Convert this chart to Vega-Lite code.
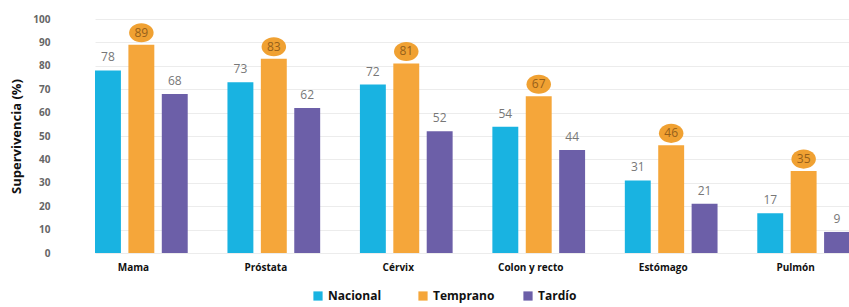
{
  "$schema": "https://vega.github.io/schema/vega-lite/v6.json",
  "width": 782,
  "height": 234,
  "autosize": {"type": "none"},
  "padding": {"left": 67, "top": 19, "right": 0, "bottom": 54},
  "background": "white",
  "config": {"view": {"stroke": null}, "font": "Open Sans"},
  "data": {
    "values": [
      {"cancer": "Mama", "serie": "Nacional", "valor": 78},
      {"cancer": "Mama", "serie": "Temprano", "valor": 89},
      {"cancer": "Mama", "serie": "Tardío", "valor": 68},
      {"cancer": "Próstata", "serie": "Nacional", "valor": 73},
      {"cancer": "Próstata", "serie": "Temprano", "valor": 83},
      {"cancer": "Próstata", "serie": "Tardío", "valor": 62},
      {"cancer": "Cérvix", "serie": "Nacional", "valor": 72},
      {"cancer": "Cérvix", "serie": "Temprano", "valor": 81},
      {"cancer": "Cérvix", "serie": "Tardío", "valor": 52},
      {"cancer": "Colon y recto", "serie": "Nacional", "valor": 54},
      {"cancer": "Colon y recto", "serie": "Temprano", "valor": 67},
      {"cancer": "Colon y recto", "serie": "Tardío", "valor": 44},
      {"cancer": "Estómago", "serie": "Nacional", "valor": 31},
      {"cancer": "Estómago", "serie": "Temprano", "valor": 46},
      {"cancer": "Estómago", "serie": "Tardío", "valor": 21},
      {"cancer": "Pulmón", "serie": "Nacional", "valor": 17},
      {"cancer": "Pulmón", "serie": "Temprano", "valor": 35},
      {"cancer": "Pulmón", "serie": "Tardío", "valor": 9}
    ]
  },
  "encoding": {
    "x": {
      "field": "cancer",
      "type": "nominal",
      "sort": null,
      "scale": {"range": [28, 783], "paddingInner": 0.3, "paddingOuter": 0},
      "axis": {
        "title": null,
        "labelAngle": 0,
        "labelFontWeight": "bold",
        "labelFontSize": 10,
        "labelColor": "#111111",
        "ticks": false,
        "domain": false,
        "labelPadding": 9,
        "labelOffset": -8
      }
    },
    "xOffset": {
      "field": "serie",
      "type": "nominal",
      "sort": ["Nacional", "Temprano", "Tardío"],
      "scale": {"paddingInner": 0.224, "paddingOuter": 0}
    },
    "y": {
      "field": "valor",
      "type": "quantitative",
      "scale": {"domain": [0, 100]},
      "axis": {
        "title": "Supervivencia (%)",
        "titleFontSize": 13,
        "titleFontWeight": "bold",
        "titleColor": "#111111",
        "titlePadding": 9,
        "values": [0, 10, 20, 30, 40, 50, 60, 70, 80, 90, 100],
        "labelFontSize": 10,
        "labelFontWeight": "bold",
        "labelColor": "#666666",
        "labelPadding": 17,
        "ticks": false,
        "domain": false,
        "gridColor": "#ececec",
        "gridWidth": 1
      }
    }
  },
  "layer": [
    {
      "mark": {"type": "bar"},
      "encoding": {
        "color": {
          "field": "serie",
          "type": "nominal",
          "scale": {
            "domain": ["Nacional", "Temprano", "Tardío"],
            "range": ["#19b3e1", "#f5a63a", "#6c5fa8"]
          },
          "legend": {
            "title": null,
            "orient": "none",
            "direction": "horizontal",
            "legendX": 245,
            "legendY": 271,
            "symbolType": "square",
            "symbolSize": 85,
            "symbolStrokeWidth": 0,
            "labelFontSize": 12,
            "labelFontWeight": "bold",
            "labelColor": "#111111",
            "labelOffset": 4,
            "gridAlign": "all",
            "columnPadding": 27,
            "padding": 0
          }
        }
      }
    },
    {
      "transform": [{"filter": "datum.serie !== 'Temprano'"}],
      "mark": {"type": "text", "baseline": "middle", "yOffset": -13, "fontSize": 12, "color": "#777777"},
      "encoding": {"text": {"field": "valor", "type": "quantitative"}}
    },
    {
      "transform": [{"filter": "datum.serie === 'Temprano'"}],
      "mark": {
        "type": "point",
        "shape": "M-1,0A1,0.78,0,1,0,1,0A1,0.78,0,1,0,-1,0Z",
        "size": 600,
        "filled": true,
        "opacity": 1,
        "color": "#f0a132",
        "yOffset": -12
      },
      "encoding": {}
    },
    {
      "transform": [{"filter": "datum.serie === 'Temprano'"}],
      "mark": {"type": "text", "baseline": "middle", "yOffset": -12, "fontSize": 12, "color": "#96601a"},
      "encoding": {"text": {"field": "valor", "type": "quantitative"}}
    }
  ]
}
